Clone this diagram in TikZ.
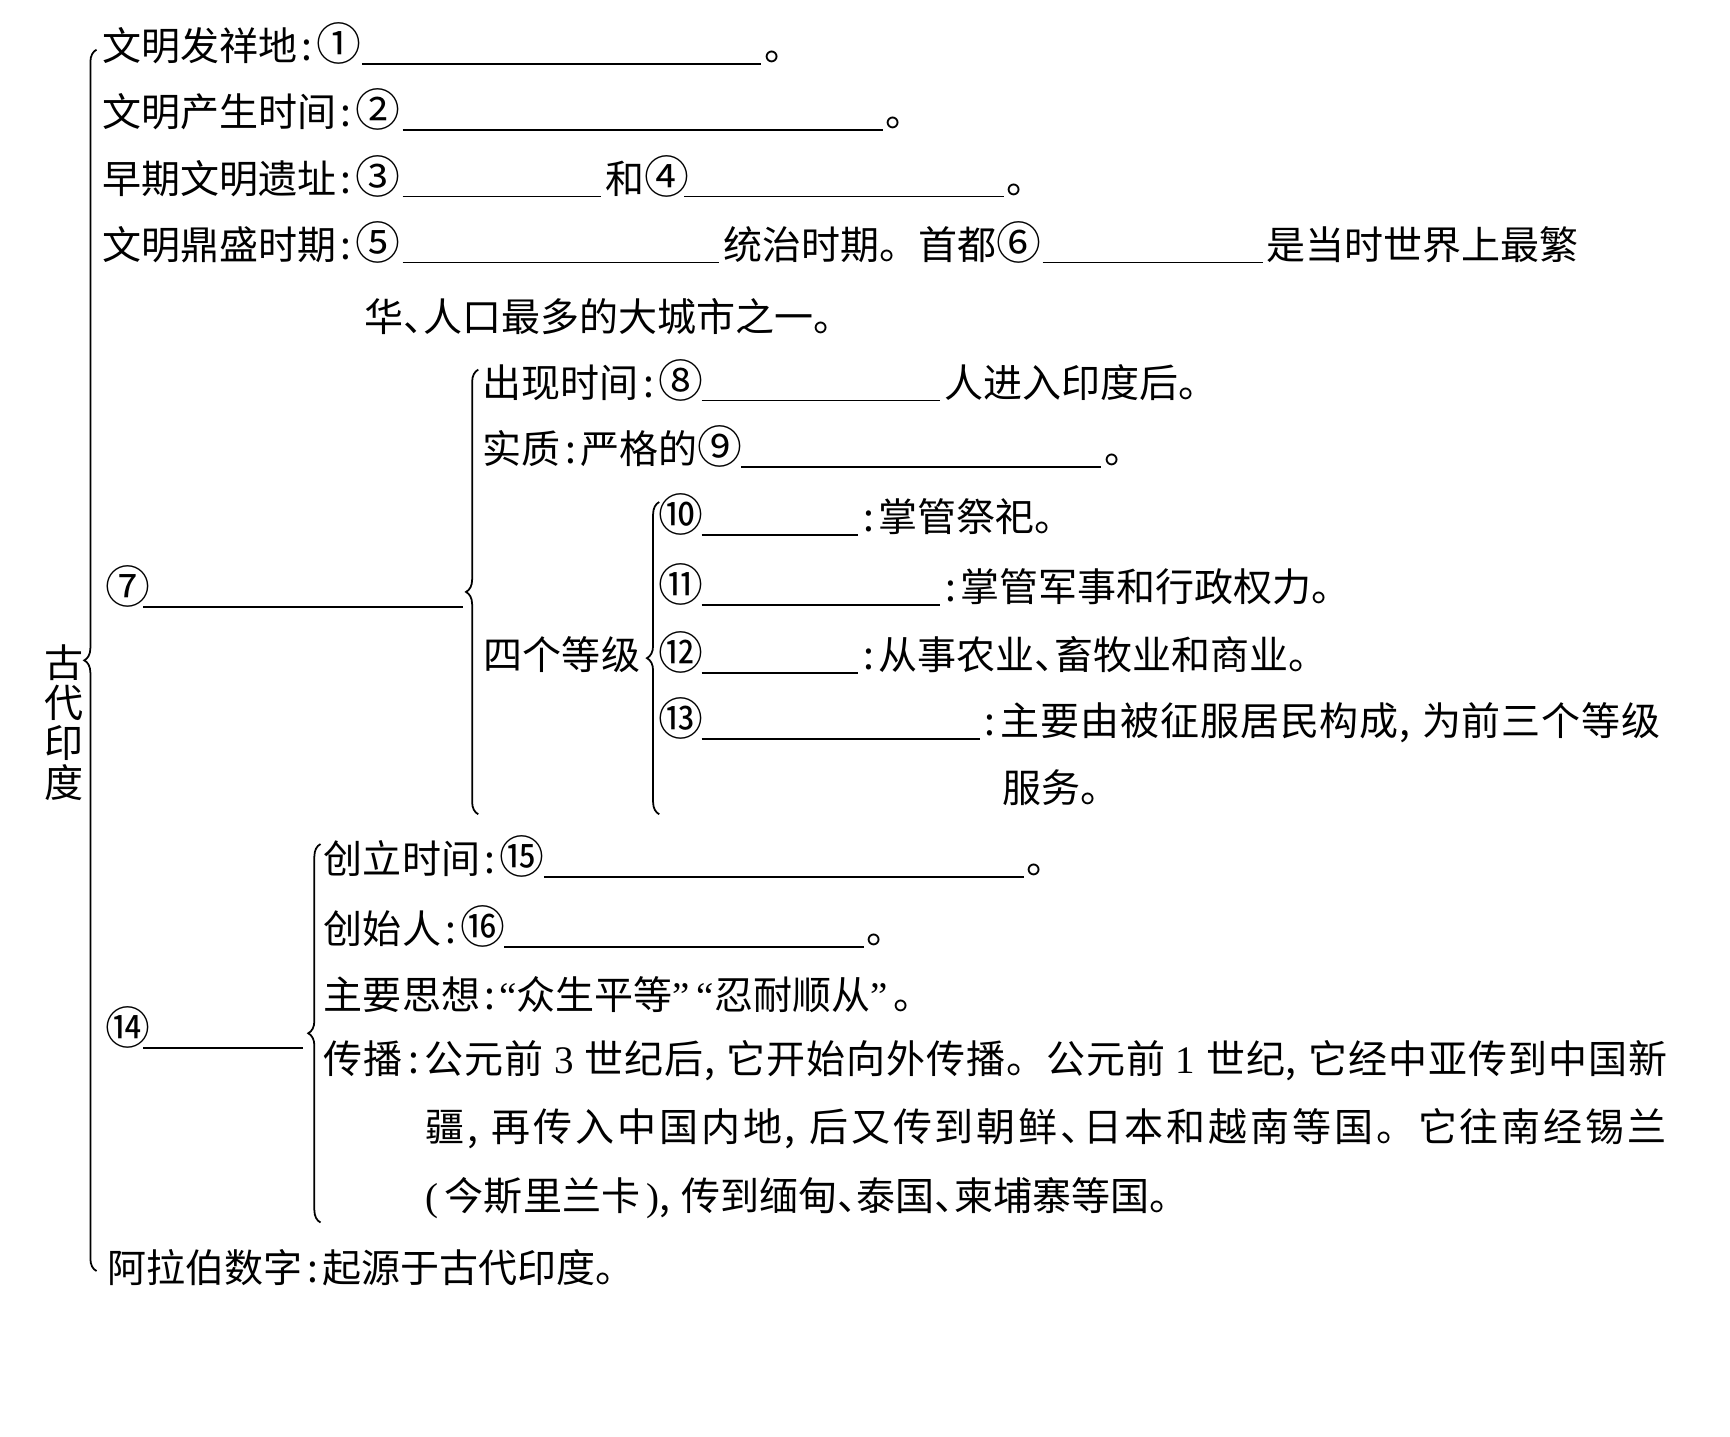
\documentclass[tikz,border=0pt]{standalone}
\usepackage{fontspec}
\usepackage{graphicx}
\setmainfont{Noto Sans CJK SC}
\newfontfamily\xifont{Liberation Serif}
\usetikzlibrary{decorations.pathreplacing}

% Signes de ponctuation et numeros cercles
\newcommand\qh[1]{\scalebox{1.15}{#1}}
\newcommand\mh{\makebox[0.5em]{:}}
\newcommand\dou{\makebox[0.55em][l]{,}}
\newcommand\dun{\makebox[0.5em][l]{、}}
% Ligne justifiee : un \hfil entre deux caracteres
\newcommand\justif[2]{\makebox[#1][s]{\justifa#2\relax}}
\def\justifa#1{{#1}\justifb}
\def\justifb#1{\ifx\relax#1\else\hfil{#1}\expandafter\justifb\fi}

\tikzset{
  hang/.style={anchor=base west, inner sep=0pt, font=\fontsize{11.1pt}{13pt}\selectfont},
  blank/.style={line width=0.5pt},
  kuohao/.style={line width=0.5pt, decorate, decoration={brace, amplitude=3.5pt}},
}

\begin{document}
\begin{tikzpicture}[x=0.011033cm, y=-0.011033cm]
    \useasboundingbox (0,0) rectangle (1568,1302);

    % Grande accolade et titre vertical
    \draw[kuohao] (87.5,1152) -- (87.5,45);
    \node[font=\fontsize{11.1pt}{11.4pt}\selectfont, align=center, inner sep=0pt] (titre) at (58,655) {古\\代\\印\\度};

    % Lignes 1 a 5
    \node[hang] (fxd) at (92,55) {文明发祥地\mh\qh{①}};
    \draw[blank] (328,58) -- (690,58);
    \node[hang] (fxdp) at (692,55) {。};

    \node[hang] (cssj) at (92,115) {文明产生时间\mh\qh{②}};
    \draw[blank] (365,118) -- (800,118);
    \node[hang] (cssjp) at (802,115) {。};

    \node[hang] (yz) at (92,175) {早期文明遗址\mh\qh{③}};
    \draw[blank] (365,178) -- (545,178);
    \node[hang] (yzhe) at (548,175) {和\qh{④}};
    \draw[blank] (620,178) -- (910,178);
    \node[hang] (yzp) at (912,175) {。};

    \node[hang] (ds) at (92,235) {文明鼎盛时期\mh\qh{⑤}};
    \draw[blank] (365,238) -- (652,238);
    \node[hang] (dstz) at (655,235) {统治时期。首都\qh{⑥}};
    \draw[blank] (945,238) -- (1145,238);
    \node[hang] (dsfan) at (1147,235) {是当时世界上最繁};
    \node[hang] (dshua) at (330,300) {华\dun 人口最多的大城市之一。};

    % Branche 7
    \node[hang] (n7) at (95,547) {\qh{⑦}};
    \draw[blank] (130,550) -- (420,550);
    \draw[kuohao] (433.5,738) -- (433.5,335);

    \node[hang] (cxsj) at (437,360) {出现时间\mh\qh{⑧}};
    \draw[blank] (636,363) -- (852,363);
    \node[hang] (cxsjr) at (855,360) {人进入印度后。};

    \node[hang] (shizhi) at (437,420) {实质\mh 严格的\qh{⑨}};
    \draw[blank] (672,423) -- (998,423);
    \node[hang] (shizhip) at (1000,420) {。};

    \node[hang] (dengji) at (438,607) {四个等级};
    \draw[kuohao] (597.5,738) -- (597.5,455);

    \node[hang] (n10) at (596,482) {\qh{⑩}};
    \draw[blank] (636,485) -- (778,485);
    \node[hang] (n10r) at (778,482) {\mh 掌管祭祀。};

    \node[hang] (n11) at (596,545) {\qh{⑪}};
    \draw[blank] (636,548) -- (852,548);
    \node[hang] (n11r) at (852,545) {\mh 掌管军事和行政权力。};

    \node[hang] (n12) at (596,607) {\qh{⑫}};
    \draw[blank] (636,610) -- (778,610);
    \node[hang] (n12r) at (778,607) {\mh 从事农业\dun 畜牧业和商业。};

    \node[hang] (n13) at (596,667) {\qh{⑬}};
    \draw[blank] (636,670) -- (888,670);
    \node[hang] (n13r) at (888,667) {\justif{6.8cm}{\mh 主要由被征服居民构成\dou 为前三个等级}};
    \node[hang] (n13s) at (908,727) {服务。};

    % Branche 14
    \node[hang] (n14) at (95,947) {\qh{⑭}};
    \draw[blank] (130,950) -- (275,950);
    \draw[kuohao] (290.5,1108) -- (290.5,765);

    \node[hang] (clsj) at (293,792) {创立时间\mh\qh{⑮}};
    \draw[blank] (493,795) -- (928,795);
    \node[hang] (clsjp) at (930,792) {。};

    \node[hang] (csr) at (293,855) {创始人\mh\qh{⑯}};
    \draw[blank] (457,858) -- (783,858);
    \node[hang] (csrp) at (785,855) {。};

    \node[hang] (sixiang) at (293,915) {主要思想\mh{\xifont “}众生平等{\xifont ”\,“}忍耐顺从{\xifont ”}\,。};
    \node[hang] (cb1) at (293,973) {\justif{13.43cm}{传播\mh 公元前{\xifont\ 3\ }世纪后\dou 它开始向外传播。公元前{\xifont\ 1\ }世纪\dou 它经中亚传到中国新}};
    \node[hang] (cb2) at (385,1035) {\justif{12.41cm}{疆\dou 再传入中国内地\dou 后又传到朝鲜\dun 日本和越南等国。它往南经锡兰}};
    \node[hang] (cb3) at (385,1097) {{\xifont (\,}今斯里兰卡{\xifont \,)}\dou 传到缅甸\dun 泰国\dun 柬埔寨等国。};

    % Derniere ligne
    \node[hang] (shuzi) at (97,1162) {阿拉伯数字\mh 起源于古代印度。};

\end{tikzpicture}
\end{document}
